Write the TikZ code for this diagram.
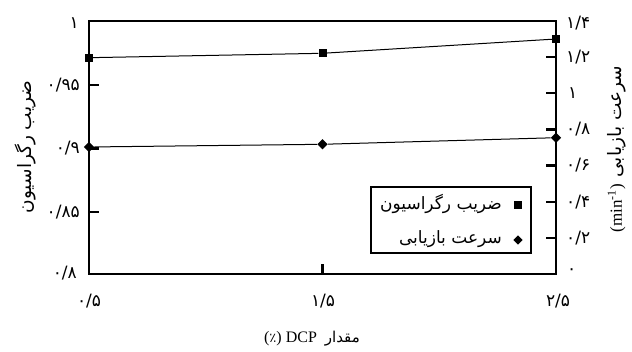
\documentclass[tikz,border=0pt]{standalone}
\usepackage{fontspec}
\setmainfont{Liberation Serif}
\newfontfamily\arabicfont[Script=Arabic]{DejaVu Sans}
\newfontfamily\digitfont{DejaVu Sans}
\TeXXeTstate=1
\usetikzlibrary{shapes.geometric}
\begin{document}
\begin{tikzpicture}[x=1pt,y=-1pt,
  frame/.style={line width=2.4pt},
  tickmark/.style={line width=2.4pt},
  dataline/.style={line width=1pt},
  sqmark/.style={rectangle,fill=black,inner sep=0pt,minimum size=8pt},
  dimark/.style={diamond,fill=black,inner sep=0pt,minimum size=10.5pt},
  ticklab/.style={font=\digitfont\fontsize{17}{19}\selectfont,inner sep=0pt},
  lab/.style={font=\arabicfont\fontsize{17}{20}\selectfont,inner sep=0pt},
  legbox/.style={draw,line width=2pt,inner sep=0pt,minimum width=160pt,minimum height=66pt}
]
\useasboundingbox (0,0) rectangle (632,352);
% frame
\draw[frame] (89,21) rectangle (556,274);
% left ticks
\foreach \yy in {85.25,148.5,211.75} \draw[tickmark] (89,\yy) -- (99,\yy);
% right ticks
\foreach \k in {1,...,6} \draw[tickmark] (556,274-\k*36.14) -- (546,274-\k*36.14);
% bottom tick
\draw[tickmark] (322.5,274) -- (322.5,264);
% left tick labels
\node[ticklab,anchor=east] (l1) at (79,23) {۱};
\node[ticklab,anchor=east] (l2) at (80,85.25) {۰/۹۵};
\node[ticklab,anchor=east] (l3) at (80,148.5) {۰/۹};
\node[ticklab,anchor=east] (l4) at (80,211.75) {۰/۸۵};
\node[ticklab,anchor=east] (l5) at (77,273) {۰/۸};
% right tick labels
\node[ticklab,anchor=west] (r0) at (567,272) {۰};
\node[ticklab,anchor=west] (r1) at (566,237.86) {۰/۲};
\node[ticklab,anchor=west] (r2) at (566,201.72) {۰/۴};
\node[ticklab,anchor=west] (r3) at (566,165.58) {۰/۶};
\node[ticklab,anchor=west] (r4) at (566,129.44) {۰/۸};
\node[ticklab,anchor=west] (r5) at (568,93.3) {۱};
\node[ticklab,anchor=west] (r6) at (566,57.16) {۱/۲};
\node[ticklab,anchor=west] (r7) at (566,23) {۱/۴};
% x tick labels
\node[ticklab] (x1) at (89,301) {۰/۵};
\node[ticklab] (x2) at (323,301) {۱/۵};
\node[ticklab] (x3) at (558,301) {۲/۵};
% axis titles
\node[lab,font=\arabicfont\fontsize{18.5}{21}\selectfont,rotate=90] (ly) at (25,147) {\beginR ضریب رگراسیون\endR};
\node[font=\fontsize{17}{19}\selectfont,inner sep=0pt,rotate=90] (ry) at (617,149)
  {(min\textsuperscript{-1})\hspace{0.4em}{\arabicfont\fontsize{18.5}{21}\selectfont\beginR سرعت بازیابی\endR}};
\node[font=\fontsize{16}{18}\selectfont,inner sep=0pt] (xt) at (312,339)
  {({\arabicfont\fontsize{13}{15}\selectfont ٪}) DCP\hspace{0.5em}{\arabicfont\fontsize{15}{17}\selectfont مقدار}};
% data: regression coefficient
\node[sqmark] (s1) at (89,57.7) {};
\node[sqmark] (s2) at (322.5,53.3) {};
\node[sqmark] (s3) at (556,39) {};
\draw[dataline] (s1) -- (s2) -- (s3);
% data: recovery rate
\node[dimark] (d1) at (89,147) {};
\node[dimark] (d2) at (322.5,144.3) {};
\node[dimark] (d3) at (556,137.7) {};
\draw[dataline] (d1) -- (d2) -- (d3);
% legend
\node[legbox] (leg) at (451,219.7) {};
\node[sqmark] (ls) at (518,205) {};
\node[dimark,minimum size=9.5pt] (ld) at (518,240) {};
\node[lab,anchor=east] (lt1) at (502,204) {\beginR ضریب رگراسیون\endR};
\node[lab,anchor=east] (lt2) at (502,239) {\beginR سرعت بازیابی\endR};
\end{tikzpicture}
\end{document}
